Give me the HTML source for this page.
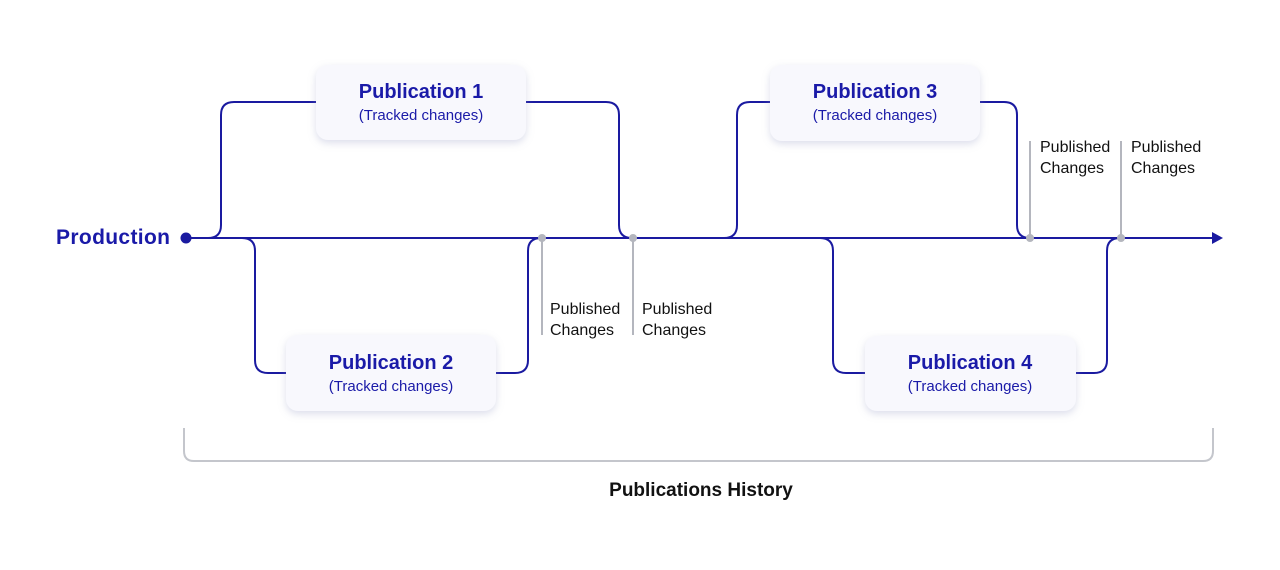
<!DOCTYPE html>
<html><head><meta charset="utf-8"><style>
html,body{margin:0;padding:0;background:#fff;width:1280px;height:570px;overflow:hidden}
svg{display:block}
text{font-family:"Liberation Sans",sans-serif}
</style></head><body>
<svg width="1280" height="570" viewBox="0 0 1280 570" xmlns="http://www.w3.org/2000/svg">
<defs>
<filter id="sh" x="-20%" y="-30%" width="140%" height="170%">
<feDropShadow dx="0" dy="3" stdDeviation="4" flood-color="#9aa0c8" flood-opacity="0.35"/>
</filter>
</defs>
<g fill="none" stroke="#1a1aa0" stroke-width="2">
<line x1="186" y1="238" x2="1214" y2="238"/>
<path d="M208 238 Q221 238 221 225 L221 115 Q221 102 234 102 L320 102"/>
<path d="M520 102 L606 102 Q619 102 619 115 L619 225 Q619 238 632 238"/>
<path d="M242 238 Q255 238 255 251 L255 360 Q255 373 268 373 L290 373"/>
<path d="M492 373 L515 373 Q528 373 528 360 L528 251 Q528 238 541 238"/>
<path d="M724 238 Q737 238 737 225 L737 115 Q737 102 750 102 L775 102"/>
<path d="M975 102 L1004 102 Q1017 102 1017 115 L1017 225 Q1017 238 1030 238"/>
<path d="M820 238 Q833 238 833 251 L833 360 Q833 373 846 373 L870 373"/>
<path d="M1070 373 L1094 373 Q1107 373 1107 360 L1107 251 Q1107 238 1120 238"/>
</g>
<polygon points="1212,232 1223,238 1212,244" fill="#1a1aa0"/>
<circle cx="186" cy="238" r="5.5" fill="#1a1aa0"/>
<g stroke="#b4b6be" stroke-width="2">
<line x1="542" y1="238" x2="542" y2="335"/>
<line x1="633" y1="238" x2="633" y2="335"/>
<line x1="1030" y1="141" x2="1030" y2="238"/>
<line x1="1121" y1="141" x2="1121" y2="238"/>
</g>
<g fill="#b4b6be"><circle cx="542" cy="238" r="4"/><circle cx="633" cy="238" r="4"/><circle cx="1030" cy="238" r="4"/><circle cx="1121" cy="238" r="4"/></g>
<g fill="#f8f8fd" filter="url(#sh)">
<rect x="316" y="65" width="210" height="75" rx="12"/>
<rect x="286" y="335" width="210" height="76" rx="12"/>
<rect x="770" y="65" width="210" height="76" rx="12"/>
<rect x="865" y="336" width="211" height="75" rx="12"/>
</g>
<g text-anchor="middle" fill="#1a1aa8">
<text x="421" y="98" font-size="20" font-weight="bold">Publication 1</text>
<text x="421" y="120" font-size="15">(Tracked changes)</text>
<text x="391" y="369" font-size="20" font-weight="bold">Publication 2</text>
<text x="391" y="391" font-size="15">(Tracked changes)</text>
<text x="875" y="98" font-size="20" font-weight="bold">Publication 3</text>
<text x="875" y="120" font-size="15">(Tracked changes)</text>
<text x="970" y="369" font-size="20" font-weight="bold">Publication 4</text>
<text x="970" y="391" font-size="15">(Tracked changes)</text>
</g>
<text x="56" y="244" font-size="21" font-weight="bold" fill="#1a1aa8" textLength="114">Production</text>
<g font-size="16" fill="#111">
<text x="550" y="314">Published</text><text x="550" y="335">Changes</text>
<text x="642" y="314">Published</text><text x="642" y="335">Changes</text>
<text x="1040" y="152">Published</text><text x="1040" y="173">Changes</text>
<text x="1131" y="152">Published</text><text x="1131" y="173">Changes</text>
</g>
<path d="M184 428 L184 451 Q184 461 194 461 L1203 461 Q1213 461 1213 451 L1213 428" fill="none" stroke="#c4c6cc" stroke-width="2"/>
<text x="701" y="496" font-size="19" font-weight="bold" text-anchor="middle" fill="#111">Publications History</text>
</svg>
</body></html>
